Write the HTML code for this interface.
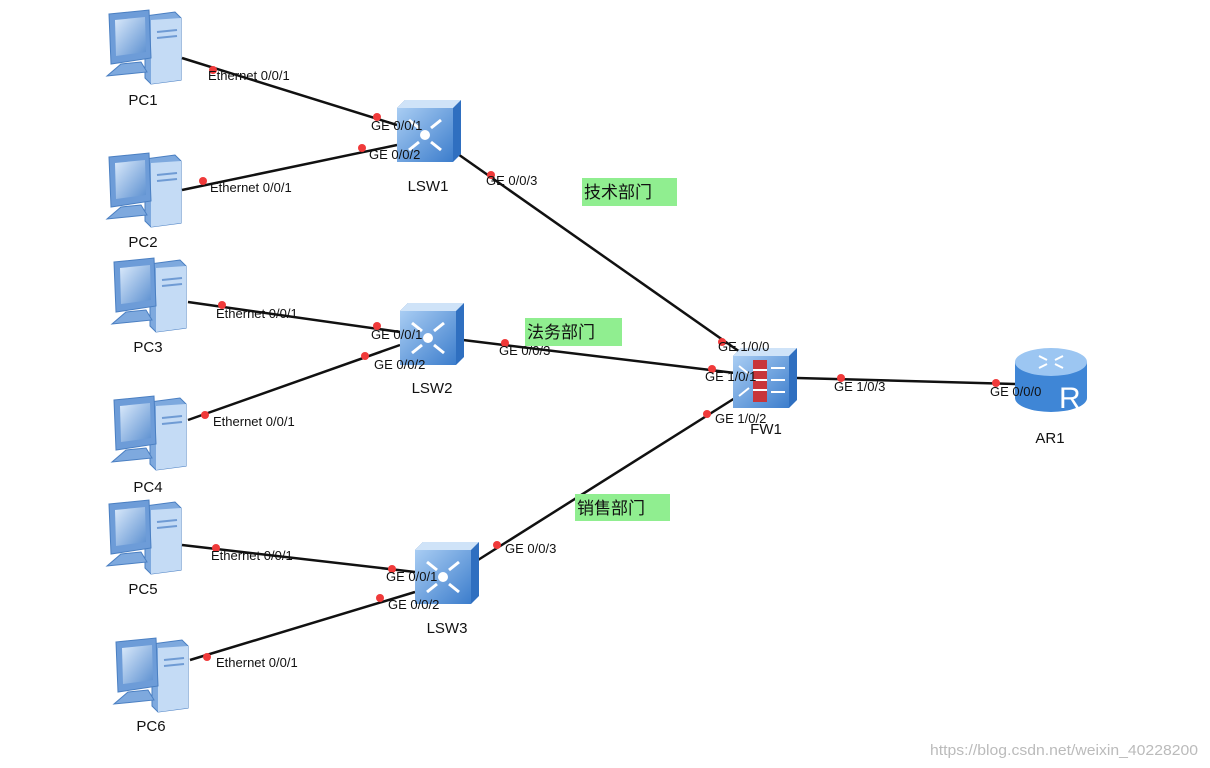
<!DOCTYPE html>
<html><head><meta charset="utf-8"><style>
body{margin:0;background:#fff;}
svg{display:block;font-family:"Liberation Sans","Noto Sans CJK SC",sans-serif;}
.l{font-size:13px;fill:#111;}
.p{font-size:15px;fill:#111;}
.c{font-size:17px;fill:#111;}
</style></head><body>
<svg width="1210" height="768" viewBox="0 0 1210 768">
<defs>
<linearGradient id="pcg" x1="0" y1="0" x2="1" y2="1"><stop offset="0" stop-color="#dbeafb"/><stop offset="1" stop-color="#5b8fd0"/></linearGradient>
<linearGradient id="swg" x1="0" y1="0" x2="1" y2="1"><stop offset="0" stop-color="#a9cdf3"/><stop offset="1" stop-color="#3c7dcc"/></linearGradient>
<g id="pc">
<path d="M40 6 L70 2 L76 8 L76 70 L46 74 L40 68Z" fill="#7ea9de" stroke="#4a7fc2"/>
<path d="M46 10 L76 8 L76 70 L46 74Z" fill="#c4dbf5"/>
<line x1="52" y1="22" x2="72" y2="20" stroke="#6f9bd4" stroke-width="2"/>
<line x1="52" y1="28" x2="72" y2="26" stroke="#6f9bd4" stroke-width="2"/>
<path d="M4 4 L44 0 L46 48 L6 54Z" fill="#6d9cd8" stroke="#4a7fc2"/>
<path d="M10 10 L40 7 L41 42 L11 46Z" fill="url(#pcg)"/>
<path d="M16 54 L36 52 L42 62 L2 66 Z" fill="#7ea9de" stroke="#4a7fc2"/>
</g>
<g id="sw">
<path d="M0 8 L8 0 L64 0 L64 54 L56 62 L0 62Z" fill="#2f6fc0"/>
<rect x="0" y="8" width="56" height="54" fill="url(#swg)"/>
<path d="M0 8 L8 0 L64 0 L56 8Z" fill="#cfe3f8"/>
<g stroke="#fff" stroke-width="3" fill="none"><line x1="12" y1="20" x2="22" y2="28"/><line x1="44" y1="20" x2="34" y2="28"/><line x1="12" y1="50" x2="22" y2="42"/><line x1="44" y1="50" x2="34" y2="42"/></g>
<circle cx="28" cy="35" r="5" fill="#fff"/>
</g>
</defs>
<g stroke="#111" stroke-width="2.5">
<line x1="182" y1="58" x2="397" y2="125"/>
<line x1="182" y1="190" x2="397" y2="145"/>
<line x1="455" y1="152" x2="740" y2="352"/>
<line x1="188" y1="302" x2="400" y2="332"/>
<line x1="188" y1="420" x2="400" y2="345"/>
<line x1="463" y1="340" x2="735" y2="373"/>
<line x1="735" y1="398" x2="478" y2="560"/>
<line x1="797" y1="378" x2="1015" y2="384"/>
<line x1="182" y1="545" x2="415" y2="572"/>
<line x1="190" y1="660" x2="415" y2="592"/>
</g>
<use href="#pc" x="105" y="10"/>
<use href="#pc" x="105" y="153"/>
<use href="#pc" x="110" y="258"/>
<use href="#pc" x="110" y="396"/>
<use href="#pc" x="105" y="500"/>
<use href="#pc" x="112" y="638"/>
<use href="#sw" x="397" y="100"/>
<use href="#sw" x="400" y="303"/>
<use href="#sw" x="415" y="542"/>
<g transform="translate(733,348)">
<path d="M0 8 L8 0 L64 0 L64 52 L56 60 L0 60Z" fill="#2f6fc0"/>
<rect x="0" y="8" width="56" height="52" fill="url(#swg)"/>
<path d="M0 8 L8 0 L64 0 L56 8Z" fill="#cfe3f8"/>
<rect x="20" y="12" width="14" height="42" fill="#c8353a"/>
<g stroke="#fff" stroke-width="2"><line x1="20" y1="22" x2="34" y2="22"/><line x1="20" y1="32" x2="34" y2="32"/><line x1="20" y1="42" x2="34" y2="42"/><line x1="38" y1="20" x2="52" y2="20"/><line x1="38" y1="32" x2="52" y2="32"/><line x1="38" y1="44" x2="52" y2="44"/><line x1="6" y1="18" x2="16" y2="26"/><line x1="6" y1="48" x2="16" y2="40"/></g>
</g>
<g transform="translate(1015,348)">
<path d="M0 14 L0 50 A36 14 0 0 0 72 50 L72 14Z" fill="#3f86d6"/>
<ellipse cx="36" cy="14" rx="36" ry="14" fill="#9cc6f2"/>
<text x="44" y="60" font-size="30" fill="#fff" font-family="Liberation Sans">R</text>
<g stroke="#fff" stroke-width="2"><line x1="24" y1="8" x2="32" y2="12"/><line x1="48" y1="8" x2="40" y2="12"/><line x1="24" y1="20" x2="32" y2="16"/><line x1="48" y1="20" x2="40" y2="16"/></g>
</g>
<g fill="#f03a3a">
<circle cx="213" cy="70" r="4"/><circle cx="377" cy="117" r="4"/>
<circle cx="203" cy="181" r="4"/><circle cx="362" cy="148" r="4"/>
<circle cx="491" cy="175" r="4"/><circle cx="722" cy="342" r="4"/>
<circle cx="222" cy="305" r="4"/><circle cx="377" cy="326" r="4"/>
<circle cx="205" cy="415" r="4"/><circle cx="365" cy="356" r="4"/>
<circle cx="505" cy="343" r="4"/><circle cx="712" cy="369" r="4"/>
<circle cx="707" cy="414" r="4"/><circle cx="497" cy="545" r="4"/>
<circle cx="841" cy="378" r="4"/><circle cx="996" cy="383" r="4"/>
<circle cx="216" cy="548" r="4"/><circle cx="392" cy="569" r="4"/>
<circle cx="207" cy="657" r="4"/><circle cx="380" cy="598" r="4"/>
</g>
<g class="l">
<text x="208" y="80">Ethernet 0/0/1</text>
<text x="371" y="130">GE 0/0/1</text>
<text x="369" y="159">GE 0/0/2</text>
<text x="210" y="192">Ethernet 0/0/1</text>
<text x="486" y="185">GE 0/0/3</text>
<text x="216" y="318">Ethernet 0/0/1</text>
<text x="371" y="339">GE 0/0/1</text>
<text x="374" y="369">GE 0/0/2</text>
<text x="213" y="426">Ethernet 0/0/1</text>
<text x="499" y="355">GE 0/0/3</text>
<text x="718" y="351">GE 1/0/0</text>
<text x="705" y="381">GE 1/0/1</text>
<text x="715" y="423">GE 1/0/2</text>
<text x="834" y="391">GE 1/0/3</text>
<text x="990" y="396">GE 0/0/0</text>
<text x="505" y="553">GE 0/0/3</text>
<text x="211" y="560">Ethernet 0/0/1</text>
<text x="386" y="581">GE 0/0/1</text>
<text x="388" y="609">GE 0/0/2</text>
<text x="216" y="667">Ethernet 0/0/1</text>
</g>
<g class="p" text-anchor="middle">
<text x="143" y="105">PC1</text><text x="143" y="247">PC2</text><text x="148" y="352">PC3</text><text x="148" y="492">PC4</text><text x="143" y="594">PC5</text><text x="151" y="731">PC6</text>
<text x="428" y="191">LSW1</text><text x="432" y="393">LSW2</text><text x="447" y="633">LSW3</text><text x="766" y="434">FW1</text><text x="1050" y="443">AR1</text>
</g>
<rect x="582" y="178" width="95" height="28" fill="#90ee90"/>
<rect x="525" y="318" width="97" height="28" fill="#90ee90"/>
<rect x="575" y="494" width="95" height="27" fill="#90ee90"/>
<g class="c">
<text x="584" y="198">技术部门</text>
<text x="527" y="338">法务部门</text>
<text x="577" y="514">销售部门</text>
</g>
<text x="930" y="755" font-size="15" fill="#bbb" textLength="268" lengthAdjust="spacingAndGlyphs">https://blog.csdn.net/weixin_40228200</text>
</svg>
</body></html>
